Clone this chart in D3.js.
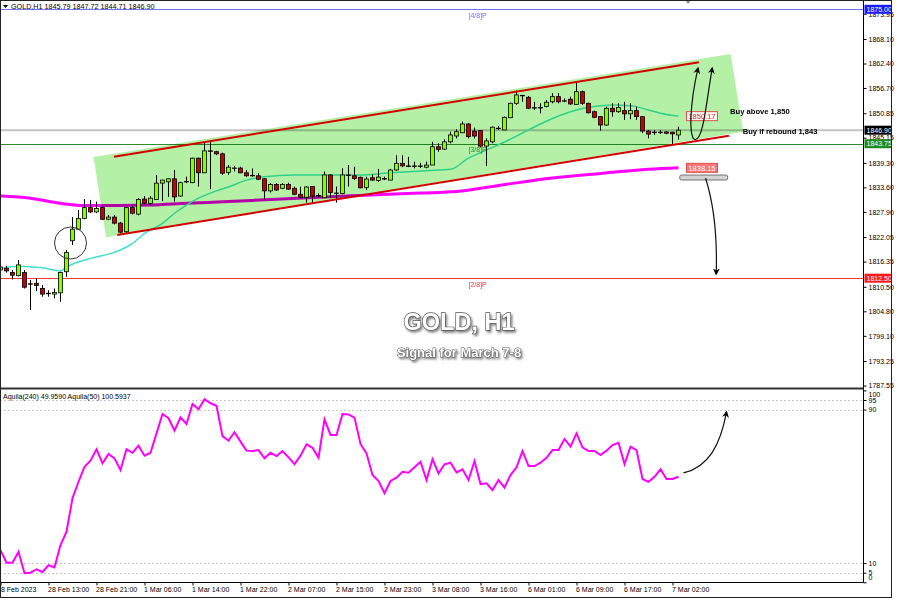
<!DOCTYPE html>
<html><head><meta charset="utf-8">
<script src="https://cdn.jsdelivr.net/npm/d3@7"></script>
<style>
body{margin:0;background:#fff}
svg{display:block}
text{font-family:"Liberation Sans",Arial,sans-serif}
</style>
</head><body>
<svg id="c" width="900" height="600"></svg>
<script>
// ---------------- DATA ----------------
const opens=[1814.4,1814.8,1813.8,1813.1,1813.8,1811.2,1811.3,1810.1,1808.9,1808.8,
1809.1,1814.0,1821.2,1823.9,1826.4,1828.9,1827.9,1828.9,1826.2,1826.7,
1825.3,1823.3,1828.9,1827.4,1830.9,1829.9,1830.8,1834.6,1834.9,1835.6,
1831.6,1834.9,1834.7,1840.4,1837.0,1842.1,1841.9,1841.4,1837.1,1838.0,
1838.1,1837.0,1836.4,1836.3,1835.6,1832.8,1834.3,1833.4,1834.3,1833.4,
1832.0,1831.3,1833.8,1831.6,1831.2,1836.5,1832.2,1832.2,1836.5,1836.3,
1835.95,1833.6,1835.85,1835.2,1835.6,1835.3,1837.65,1839.2,1838.6,1838.6,
1838.5,1838.3,1838.8,1843.05,1842.5,1844.2,1845.55,1846.3,1848.35,1846.7,
1846.8,1843.2,1844.2,1847.3,1846.95,1849.8,1853.15,1854.9,1854.55,1852.1,
1852.2,1852.4,1853.5,1854.7,1853.7,1854.1,1852.9,1855.85,1853.15,1851.2,
1850.05,1848.1,1852.0,1851.2,1851.45,1850.7,1851.45,1850.05,1846.7,1846.45,
1846.4,1846.5,1846.45,1845.79];
const highs=[1817.2,1815.4,1814.4,1816.7,1814.4,1812.1,1812.5,1810.9,1809.7,1810.1,
1814.0,1819.05,1826.7,1828.35,1830.9,1830.7,1830.3,1829.3,1827.2,1827.2,
1825.6,1829.1,1829.3,1831.1,1831.6,1831.6,1836.5,1835.4,1835.7,1837.65,
1834.9,1836.1,1840.5,1840.5,1844.2,1844.2,1842.1,1841.7,1838.8,1838.6,
1838.4,1837.65,1838.0,1836.9,1835.7,1834.6,1834.6,1834.6,1834.7,1833.8,
1833.8,1833.9,1833.8,1832.2,1837.3,1836.65,1833.8,1838.05,1838.8,1838.4,
1836.1,1836.1,1836.65,1837.9,1836.1,1837.9,1841.1,1841.1,1840.7,1839.6,
1839.3,1839.6,1844.2,1843.85,1844.8,1846.55,1847.1,1848.9,1848.5,1847.5,
1846.95,1845.0,1847.75,1847.9,1850.05,1853.3,1856.1,1855.1,1854.85,1853.5,
1853.15,1853.9,1855.5,1855.5,1854.3,1854.7,1857.95,1856.1,1853.3,1851.45,
1850.2,1852.35,1853.15,1853.15,1853.5,1853.15,1852.35,1850.2,1846.95,1846.95,
1846.95,1846.7,1846.55,1847.72];
const lows=[1812.1,1813.8,1812.2,1812.9,1810.1,1805.1,1809.5,1808.2,1808.2,1807.8,
1807.0,1812.8,1820.2,1823.7,1826.2,1827.6,1827.6,1826.0,1826.0,1825.0,
1822.9,1822.9,1827.3,1827.1,1829.7,1829.5,1830.7,1830.4,1831.4,1830.3,
1831.4,1834.6,1834.6,1833.8,1836.9,1833.2,1841.1,1836.5,1836.5,1837.3,
1836.9,1836.1,1836.1,1835.3,1830.8,1832.4,1832.8,1833.2,1833.0,1831.8,
1831.1,1830.05,1830.05,1831.3,1831.1,1831.1,1830.05,1832.0,1833.8,1835.3,
1833.4,1833.0,1835.2,1834.9,1835.3,1835.3,1837.5,1838.3,1838.3,1838.05,
1838.1,1838.05,1838.8,1841.9,1842.3,1843.85,1845.0,1846.2,1845.0,1845.0,
1842.9,1838.6,1843.85,1846.95,1846.95,1849.7,1852.8,1853.5,1851.8,1851.6,
1850.8,1852.2,1853.15,1853.15,1853.4,1852.8,1852.9,1852.8,1850.8,1849.7,
1846.8,1847.9,1850.05,1850.95,1849.3,1849.45,1849.3,1846.2,1845.0,1845.8,
1846.0,1845.95,1843.7,1844.71];
const closes=[1815.1,1814.2,1813.2,1815.6,1810.4,1811.1,1810.8,1808.8,1809.0,1809.2,
1813.8,1818.5,1823.9,1826.4,1828.9,1827.9,1828.7,1826.2,1826.7,1825.3,
1823.2,1828.9,1827.6,1830.8,1829.9,1831.1,1834.6,1835.3,1835.6,1831.4,
1834.7,1835.0,1840.4,1837.0,1842.1,1842.0,1841.4,1836.9,1838.3,1838.1,
1837.0,1836.3,1836.3,1835.5,1832.8,1834.3,1833.0,1834.3,1833.2,1832.0,
1831.3,1833.7,1831.6,1831.7,1836.5,1832.4,1832.3,1836.5,1836.4,1835.65,
1833.5,1835.55,1835.3,1836.0,1835.65,1837.65,1839.2,1838.6,1838.5,1838.6,
1838.6,1838.8,1843.05,1842.45,1844.2,1845.8,1846.55,1848.35,1845.4,1845.55,
1843.2,1844.4,1847.6,1847.35,1849.9,1853.15,1855.1,1855.0,1852.0,1852.15,
1852.05,1853.4,1854.7,1853.5,1853.75,1853.0,1855.85,1853.15,1850.95,1849.9,
1848.1,1852.0,1851.2,1852.2,1850.7,1851.45,1850.05,1846.7,1846.0,1846.4,
1846.45,1846.2,1846.05,1846.90];

// moving averages (bar index, price)
const maFastIdx=[0,3,7,10,11,15,18,20,22,24,27,29,31,33,36,38,41,44,49,54,60,65,71,75,78,81,84,87,90,93,96,99,102,105,108,111,113];
const maFastVal=[1814.87,1815.3,1814.9,1814.2,1815.1,1817.1,1818.1,1819.05,1820.6,1822.9,1825.25,1827.6,1829.5,1831.1,1832.8,1833.7,1835.3,1836.1,1836.5,1836.5,1836.5,1837.0,1837.5,1837.8,1840.4,1842.3,1844.15,1846.25,1848.35,1850.2,1851.6,1852.4,1852.75,1852.6,1851.6,1850.55,1850.17];
const maSlowIdx=[0,5,10,14,20,25,31,38,45,54,62,70,76,83,92,100,108,113];
const maSlowVal=[1831.6,1831.1,1829.9,1829.4,1829.4,1829.5,1829.9,1830.3,1830.8,1831.4,1831.85,1832.3,1832.65,1834.05,1835.8,1836.85,1837.8,1838.15];

// oscillator (Aquila) per bar
const aquila=[16.8,10.2,10.2,15.9,4.7,5.0,6.8,5.4,8.9,7.8,
19.4,26.4,43.8,52.4,60.2,63.4,69.3,62.0,66.9,64.6,
58.5,69.3,67.5,71.2,66.0,67.5,77.6,87.7,85.5,79.0,
86.0,82.5,92.9,90.2,95.4,93.3,92.0,76.2,73.8,78.2,
73.3,68.6,68.4,68.9,64.6,67.5,65.8,68.4,65.1,61.6,
66.0,71.9,70.1,64.9,84.9,76.8,76.8,87.7,87.5,85.8,
72.1,67.2,55.9,52.8,46.4,52.8,54.5,57.6,57.1,59.9,
62.8,53.3,64.1,56.8,61.5,62.3,57.3,58.9,53.3,63.2,
51.2,51.6,48.1,53.3,49.3,55.9,59.9,68.4,60.6,60.6,
62.3,64.9,68.9,68.9,74.7,70.7,77.6,70.3,68.4,68.4,
66.3,68.6,71.5,72.7,61.6,70.7,68.9,53.8,52.4,55.0,
58.9,53.8,53.8,55.0];

const dateIdx=[0,8,16,24,32,40,48,56,64,72,80,88,96,104,112];
const dateLabels=["28 Feb 2023","28 Feb 13:00","28 Feb 21:00","1 Mar 06:00","1 Mar 14:00","1 Mar 22:00","2 Mar 07:00","2 Mar 15:00","2 Mar 23:00","3 Mar 08:00","3 Mar 16:00","6 Mar 01:00","6 Mar 09:00","6 Mar 17:00","7 Mar 02:00"];
const priceTicks=[1873.95,1868.10,1862.40,1856.70,1850.85,1845.15,1839.30,1833.60,1827.90,1822.05,1816.35,1810.50,1804.80,1799.10,1793.25,1787.55];
const oscTicks=[100,95,90,10,5,0];
const oscGrid=[95,90,10,5];

const levelPrices=[1875.00,1843.75,1812.50];
const levelNames=["[4/8]P","[3/8]P","[2/8]P"];
const levelColors=["#7070ff","#2e8b2e","#ff3333"];
const bidPrice=1846.90;

const channelUpper=[[18.9,1840.74],[116.4,1862.68]];
const channelLower=[[19.45,1822.54],[121.4,1845.62]];
const zone=[[15.5,1840.67],[121.67,1864.6],[123.8,1846.55],[17.6,1822.0]];

// ---------------- SETUP ----------------
const svg=d3.select("#c");
const W=900,H=600, AX=863.5;
const x=d3.scaleLinear().domain([0,143.83]).range([0.5,863.5]);
const y=d3.scaleLinear().domain([1787,1876]).range([387.9,5]);
const y2=d3.scaleLinear().domain([0,100]).range([582.3,390.4]);

svg.append("rect").attr("width",W).attr("height",H).attr("fill","#fff");

const defs=svg.append("defs");
defs.append("clipPath").attr("id","mainclip").append("rect").attr("x",1).attr("y",1).attr("width",862).attr("height",387);
defs.append("clipPath").attr("id","oscclip").append("rect").attr("x",1).attr("y",390).attr("width",862).attr("height",192);
const mk=defs.append("marker").attr("id","ah").attr("viewBox","0 0 10 10").attr("refX",8).attr("refY",5)
  .attr("markerWidth",7).attr("markerHeight",7).attr("orient","auto-start-reverse").attr("markerUnits","userSpaceOnUse");
mk.append("path").attr("d","M0,0 L10,5 L0,10 L3,5 z").attr("fill","#000");
const sh=defs.append("filter").attr("id","shadow").attr("x","-20%").attr("y","-40%").attr("width","140%").attr("height","180%");
sh.append("feDropShadow").attr("dx",1.5).attr("dy",2).attr("stdDeviation",1.2).attr("flood-color","#333").attr("flood-opacity",0.6);

const main=svg.append("g").attr("clip-path","url(#mainclip)");

// horizontal levels
main.selectAll("line.lvl").data(levelPrices).join("line")
  .attr("x1",0).attr("x2",AX).attr("y1",d=>Math.round(y(d))+0.5).attr("y2",d=>Math.round(y(d))+0.5)
  .attr("stroke",(d,i)=>levelColors[i]).attr("stroke-width",1);
main.append("line").attr("x1",0).attr("x2",AX).attr("y1",y(bidPrice)).attr("y2",y(bidPrice))
  .attr("stroke","#c4c4c4").attr("stroke-width",2);

// moving averages
const lineGen=d3.line().x(d=>x(d[0])).y(d=>y(d[1])).curve(d3.curveMonotoneX);
main.append("path").attr("d",lineGen(maSlowIdx.map((k,i)=>[k,maSlowVal[i]])))
  .attr("fill","none").attr("stroke","#ff00ff").attr("stroke-width",3);
main.append("path").attr("d",lineGen(maFastIdx.map((k,i)=>[k,maFastVal[i]])))
  .attr("fill","none").attr("stroke","#40e0d0").attr("stroke-width",1.5);

// green zone (multiplied over lines below)
main.append("polygon").attr("points",zone.map(p=>[x(p[0]),y(p[1])].join(",")).join(" "))
  .attr("fill","#b4f0a6").style("mix-blend-mode","multiply");

// candles
const bars=d3.range(opens.length).map(i=>({i,o:opens[i],h:highs[i],l:lows[i],c:closes[i]}));
main.selectAll("line.wick").data(bars).join("line")
  .attr("x1",d=>x(d.i)).attr("x2",d=>x(d.i)).attr("y1",d=>y(d.h)).attr("y2",d=>y(d.l))
  .attr("stroke","#000").attr("stroke-width",1);
main.selectAll("rect.body").data(bars).join("rect")
  .attr("x",d=>x(d.i)-2).attr("width",4)
  .attr("y",d=>y(Math.max(d.o,d.c)))
  .attr("height",d=>Math.max(0.5,Math.abs(y(d.o)-y(d.c))))
  .attr("fill",d=>d.c>=d.o?"#7fff00":"#c80000")
  .attr("stroke","#000").attr("stroke-width",0.8);

// channel lines
[channelUpper,channelLower].forEach(c=>{
  main.append("line").attr("x1",x(c[0][0])).attr("y1",y(c[0][1])).attr("x2",x(c[1][0])).attr("y2",y(c[1][1]))
    .attr("stroke","#d40000").attr("stroke-width",2);
});

// level labels
main.selectAll("text.lvl").data(levelPrices).join("text")
  .attr("x",x(78)).attr("y",d=>y(d)+8.5).attr("font-size",7)
  .attr("fill",(d,i)=>levelColors[i]).text((d,i)=>levelNames[i]);

// circle annotation
main.append("circle").attr("cx",x(11.67)).attr("cy",y(1820.68)).attr("r",16)
  .attr("fill","none").attr("stroke","#333").attr("stroke-width",1);

// MA value labels
function valBox(k,p,txt,fill,stroke,tcol){
  const g=main.append("g");
  g.append("rect").attr("x",x(k)).attr("y",y(p)-4.5).attr("width",31).attr("height",9)
    .attr("fill",fill).attr("stroke",stroke).attr("stroke-width",1);
  g.append("text").attr("x",x(k)+15.5).attr("y",y(p)+2.7).attr("text-anchor","middle")
    .attr("font-size",7.5).attr("fill",tcol).text(txt);
}
valBox(114.33,1850.17,"1850.17","#fff4f0","#e05050","#d03030");
valBox(114.33,1838.15,"1838.15","#f47a7a","#e05050","#fff");
main.append("rect").attr("x",x(113.2)).attr("y",y(1835.9)-2.5).attr("width",48).attr("height",5).attr("rx",2)
  .attr("fill","#d4d4d4").attr("stroke","#555").attr("stroke-width",0.8);

// arrows
const bez=pts=>{const P=pts.map(p=>[x(p[0]),y(p[1])]);
  let d=`M${P[0]}`; for(let i=1;i<P.length;i+=3) d+=` C${P[i]} ${P[i+1]} ${P[i+2]}`; return d;};
main.append("path").attr("d",bez([[116.25,1861.35],[114.83,1852.76],[114.67,1844.6],[115.83,1844.74],[117.17,1844.85],[117.67,1853.92],[118.62,1861.35]]))
  .attr("fill","none").attr("stroke","#111").attr("stroke-width",1.2)
  .attr("marker-start","url(#ah)").attr("marker-end","url(#ah)");
main.append("path").attr("d",bez([[117.5,1835.79],[118.67,1830.67],[119.5,1823.24],[119.28,1813.47]]))
  .attr("fill","none").attr("stroke","#111").attr("stroke-width",1.2).attr("marker-end","url(#ah)");

// annotation texts
main.append("text").attr("x",x(121.6)).attr("y",y(1850.6)).attr("font-size",7.6).attr("font-weight","bold").text("Buy above 1,850");
main.append("text").attr("x",x(123.7)).attr("y",y(1845.9)).attr("font-size",7.6).attr("font-weight","bold").text("Buy if rebound 1,843");

svg.append("text").attr("x",459).attr("y",330).attr("text-anchor","middle").attr("font-size",23.5).attr("font-weight","bold")
  .attr("fill","#fff").attr("stroke","#555").attr("stroke-width",1.3).attr("paint-order","stroke").attr("filter","url(#shadow)").text("GOLD, H1");
svg.append("text").attr("x",459).attr("y",356.5).attr("text-anchor","middle").attr("font-size",13).attr("font-weight","bold")
  .attr("fill","#fff").attr("stroke","#555").attr("stroke-width",1).attr("paint-order","stroke").attr("filter","url(#shadow)").text("Signal for March 7-8");

// header
svg.append("path").attr("d","M3,5 L8,5 L5.5,8 Z").attr("fill","#000");
svg.append("text").attr("x",11).attr("y",9).attr("font-size",7.2).attr("fill","#000")
  .text("GOLD,H1  "+[opens[113],highs[113],lows[113],closes[113]].map(v=>v.toFixed(2)).join(" "));
svg.append("path").attr("d",`M${x(114.6)-3},0 L${x(114.6)+3},0 L${x(114.6)},4 Z`).attr("fill","#889");

// price axis
const pax=svg.append("g").attr("transform",`translate(${AX},0)`)
  .call(d3.axisRight(y).tickValues(priceTicks).tickFormat(d=>d.toFixed(2)).tickSize(3).tickPadding(2));
pax.select(".domain").remove();
pax.selectAll("text").attr("font-size",7).attr("font-family","Liberation Sans, Arial, sans-serif").attr("fill","#000");
pax.selectAll("line").attr("stroke","#000");

// right-axis price boxes
const boxes=[[1875.00,"#1a1aff","#fff"],[bidPrice,"#000","#fff"],[1843.75,"#1f8a1f","#fff"],[1812.50,"#ff1a1a","#fff"]];
boxes.forEach(b=>{
  svg.append("rect").attr("x",AX+1).attr("y",y(b[0])-4.5).attr("width",27).attr("height",9).attr("fill",b[1]);
  svg.append("text").attr("x",AX+3).attr("y",y(b[0])+2.6).attr("font-size",7).attr("fill",b[2]).text(b[0].toFixed(2));
});

// ---------------- OSCILLATOR ----------------
const osc=svg.append("g").attr("clip-path","url(#oscclip)");
osc.selectAll("line.grid").data(oscGrid).join("line")
  .attr("x1",0).attr("x2",AX).attr("y1",d=>Math.round(y2(d))+0.5).attr("y2",d=>Math.round(y2(d))+0.5)
  .attr("stroke","#c8c8c8").attr("stroke-dasharray","2,2").attr("stroke-width",1);
osc.append("path").attr("d",d3.line().x((d,i)=>x(i)).y(d=>y2(d))(aquila))
  .attr("fill","none").attr("stroke","#ff00ff").attr("stroke-width",2);
osc.append("path").attr("d",(()=>{const P=[[113.83,57.0],[118,60.1],[120,71.6],[121,88.8]].map(p=>[x(p[0]),y2(p[1])]);
   return `M${P[0]} C${P[1]} ${P[2]} ${P[3]}`;})())
  .attr("fill","none").attr("stroke","#111").attr("stroke-width",1.2).attr("marker-end","url(#ah)");
svg.append("text").attr("x",3).attr("y",398.7).attr("font-size",7).attr("fill","#000")
  .text("Aquila(240) 49.9590   Aquila(50) 100.5937");

const oax=svg.append("g").attr("transform",`translate(${AX},0)`)
  .call(d3.axisRight(y2).tickValues(oscTicks).tickFormat(d3.format("d")).tickSize(3).tickPadding(2));
oax.select(".domain").remove();
oax.selectAll("text").attr("font-size",7).attr("font-family","Liberation Sans, Arial, sans-serif").attr("fill","#000")
  .attr("y",d=>d===100?4:(d===0?-5:0));
oax.selectAll("line").attr("stroke","#000");

// date axis
const dax=svg.append("g").attr("transform","translate(0,582.5)")
  .call(d3.axisBottom(x).tickValues(dateIdx).tickFormat((d,i)=>dateLabels[i]).tickSize(3).tickPadding(2));
dax.select(".domain").remove();
dax.selectAll("text").attr("font-size",7).attr("font-family","Liberation Sans, Arial, sans-serif").attr("fill","#000")
  .attr("text-anchor","start").attr("x",(d,i)=>i===0?-4:-1);
dax.selectAll("line").attr("stroke","#000");

// frame lines
svg.append("line").attr("x1",AX).attr("x2",AX).attr("y1",0).attr("y2",582.5).attr("stroke","#000");
svg.append("line").attr("x1",0).attr("x2",AX).attr("y1",582.5).attr("y2",582.5).attr("stroke","#000");
svg.append("line").attr("x1",0).attr("x2",AX).attr("y1",388.5).attr("y2",388.5).attr("stroke","#333").attr("stroke-width",2);
svg.append("rect").attr("x",0.5).attr("y",0.5).attr("width",891).attr("height",597).attr("fill","none").attr("stroke","#222");
</script>
</body></html>
